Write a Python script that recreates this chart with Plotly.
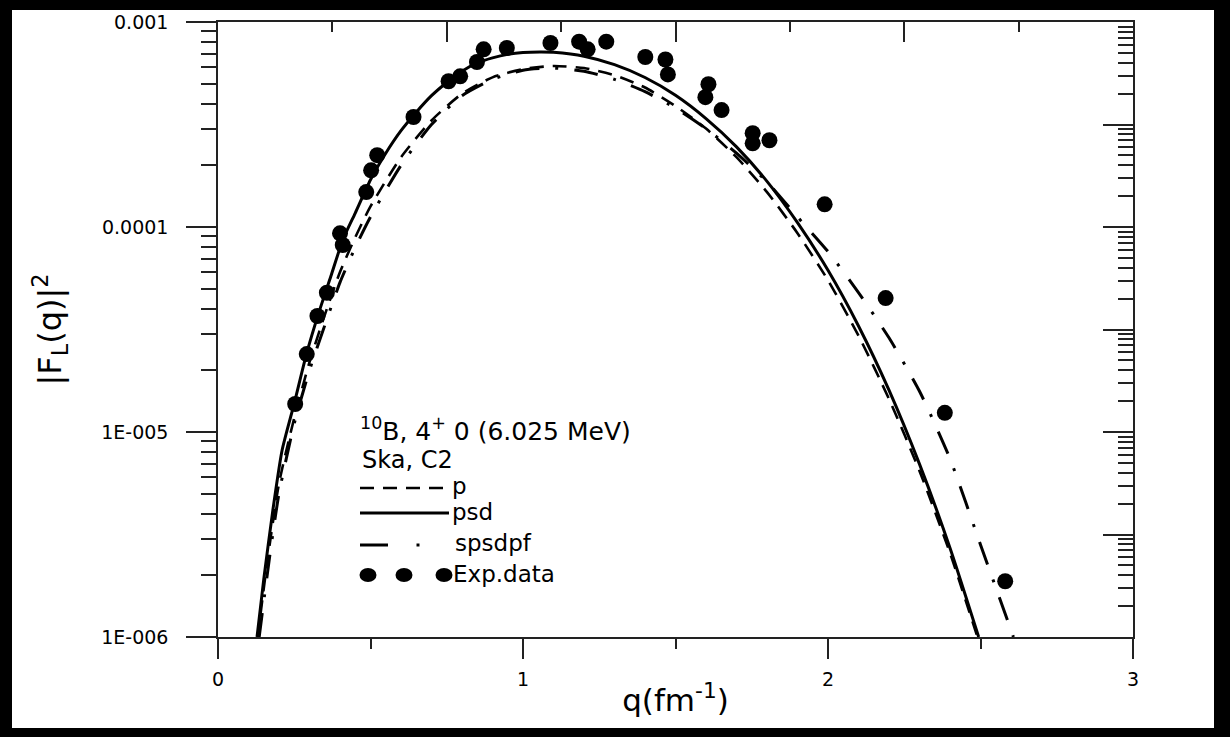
import plotly.graph_objects as go

# ---------------- data ----------------
q_exp = [0.253, 0.291, 0.326, 0.357, 0.400, 0.409, 0.486, 0.502, 0.522, 0.641,
         0.756, 0.794, 0.849, 0.871, 0.947, 1.090, 1.184, 1.212, 1.273, 1.401,
         1.467, 1.475, 1.598, 1.608, 1.651, 1.753, 1.753, 1.808, 1.989, 2.189,
         2.383, 2.581]
F_exp = [1.37e-5, 2.40e-5, 3.68e-5, 4.78e-5, 9.31e-5, 8.17e-5, 1.48e-4, 1.89e-4, 2.24e-4, 3.44e-4,
         5.14e-4, 5.43e-4, 6.38e-4, 7.36e-4, 7.47e-4, 7.90e-4, 8.02e-4, 7.36e-4, 8.02e-4, 6.75e-4,
         6.56e-4, 5.55e-4, 4.30e-4, 4.97e-4, 3.72e-4, 2.87e-4, 2.56e-4, 2.65e-4, 1.29e-4, 4.50e-5,
         1.24e-5, 1.87e-6]

q_psd = [0.128, 0.15, 0.18, 0.21, 0.25, 0.29, 0.33, 0.37, 0.41, 0.45, 0.50, 0.55, 0.60, 0.65,
         0.70, 0.75, 0.80, 0.85, 0.90, 0.95, 1.00, 1.06, 1.10, 1.20, 1.30, 1.40, 1.50, 1.60,
         1.70, 1.80, 1.90, 2.00, 2.10, 2.20, 2.30, 2.40, 2.494]
F_psd = [1.00e-6, 1.91e-6, 4.17e-6, 8.13e-6, 1.38e-5, 2.40e-5, 3.80e-5, 5.75e-5, 8.71e-5, 1.17e-4,
         1.70e-4, 2.29e-4, 2.95e-4, 3.63e-4, 4.37e-4, 5.07e-4, 5.75e-4, 6.31e-4, 6.68e-4, 6.95e-4,
         7.10e-4, 7.14e-4, 7.11e-4, 6.81e-4, 6.19e-4, 5.36e-4, 4.39e-4, 3.38e-4, 2.46e-4, 1.67e-4,
         1.05e-4, 6.15e-5, 3.29e-5, 1.60e-5, 6.97e-6, 2.72e-6, 1.00e-6]

q_p = [0.13, 0.16, 0.20, 0.25, 0.30, 0.35, 0.40, 0.45, 0.50, 0.60, 0.70, 0.80, 0.90, 1.00,
       1.10, 1.20, 1.30, 1.40, 1.50, 1.60, 1.70, 1.80, 1.90, 2.00, 2.10, 2.20, 2.30, 2.40, 2.49]
F_p = [1.00e-6, 2.24e-6, 5.62e-6, 1.17e-5, 2.19e-5, 3.72e-5, 6.03e-5, 8.91e-5, 1.26e-4, 2.19e-4,
       3.31e-4, 4.47e-4, 5.37e-4, 5.89e-4, 6.10e-4, 5.96e-4, 5.50e-4, 4.79e-4, 3.89e-4, 3.02e-4,
       2.19e-4, 1.48e-4, 9.33e-5, 5.50e-5, 2.95e-5, 1.45e-5, 6.46e-6, 2.57e-6, 1.00e-6]

q_sp = [0.135, 0.17, 0.20, 0.25, 0.30, 0.35, 0.40, 0.45, 0.50, 0.60, 0.70, 0.80, 0.90, 1.00,
        1.10, 1.20, 1.30, 1.40, 1.50, 1.60, 1.70, 1.80, 1.90, 2.00, 2.10, 2.20, 2.30, 2.40,
        2.50, 2.608]
F_sp = [1.00e-6, 2.51e-6, 5.01e-6, 1.10e-5, 2.00e-5, 3.31e-5, 5.37e-5, 7.94e-5, 1.12e-4, 2.00e-4,
        3.16e-4, 4.37e-4, 5.25e-4, 5.82e-4, 5.96e-4, 5.75e-4, 5.25e-4, 4.57e-4, 3.80e-4, 3.02e-4,
        2.29e-4, 1.66e-4, 1.12e-4, 7.59e-5, 4.79e-5, 2.88e-5, 1.58e-5, 7.41e-6, 2.82e-6, 1.00e-6]

x_tickvals = [0, 1, 2, 3]
x_ticktext = ["0", "1", "2", "3"]
y_tickvals = [1e-6, 1e-5, 1e-4, 1e-3]
y_ticktext = ["1E-006", "1E-005", "0.0001", "0.001"]

legend_title = "<sup>10</sup>B, 4<sup>+</sup> 0 (6.025 MeV)"
legend_sub = "Ska, C2"
legend_names = ["p", "psd", "spsdpf", "Exp.data"]

# ---------------- layout geometry ----------------
W, H = 1230, 737
L, R, T, B = 218, 97, 22, 100
PW, PH = W - L - R, H - T - B


def px(x):
    return (x - L) / PW


def py(y):
    return (H - B - y) / PH


FONT = "DejaVu Sans, Arial, sans-serif"
DASH_P = "14px,9px"
DASH_SP = "24px,16px,3px,16px"

fig = go.Figure()
fig.add_trace(go.Scatter(x=q_p, y=F_p, mode="lines", name=legend_names[0],
                         line=dict(color="black", width=2.6, dash=DASH_P, shape="spline",
                                   smoothing=0.6), showlegend=False))
fig.add_trace(go.Scatter(x=q_psd, y=F_psd, mode="lines", name=legend_names[1],
                         line=dict(color="black", width=3, shape="spline", smoothing=0.6),
                         showlegend=False))
fig.add_trace(go.Scatter(x=q_sp, y=F_sp, mode="lines", name=legend_names[2],
                         line=dict(color="black", width=3, dash=DASH_SP, shape="spline",
                                   smoothing=0.6), showlegend=False))
fig.add_trace(go.Scatter(x=q_exp, y=F_exp, mode="markers", name=legend_names[3],
                         marker=dict(color="black", size=16, symbol="circle"), showlegend=False))
# carrier trace for the secondary (top/right) frame axes
fig.add_trace(go.Scatter(x=[None], y=[None], xaxis="x2", yaxis="y2", showlegend=False,
                         hoverinfo="skip"))

minor_left = [k * 10.0 ** e for e in (-6, -5, -4) for k in range(2, 10)]
minor_right = [k * 10.0 ** e for e in range(-6, 0) for k in range(2, 10)]
axcol = "#222222"

fig.update_layout(
    width=W, height=H, template="none",
    margin=dict(l=L, r=R, t=T, b=B, pad=0),
    paper_bgcolor="white", plot_bgcolor="white",
    font=dict(family=FONT, color="black"),
    xaxis=dict(range=[0, 3], showgrid=False, zeroline=False, showline=True, linecolor=axcol,
               linewidth=1.5, ticks="outside", ticklen=20, tickwidth=1.5, tickcolor=axcol,
               tickmode="array", tickvals=x_tickvals, ticktext=x_ticktext,
               tickfont=dict(size=19, family=FONT), ticklabelstandoff=4,
               minor=dict(tickmode="array", tickvals=[0.5, 1.5, 2.5], ticks="outside",
                          ticklen=10, tickwidth=1.5, tickcolor=axcol, showgrid=False),
               title=dict(text="q(fm<sup>-1</sup>)", font=dict(size=31, family=FONT), standoff=1),
               automargin=False),
    yaxis=dict(type="log", range=[-6, -3], showgrid=False, zeroline=False, showline=True,
               linecolor=axcol, linewidth=1.5, ticks="outside", ticklen=30, tickwidth=1.5,
               tickcolor=axcol, tickmode="array", tickvals=y_tickvals, ticktext=y_ticktext,
               tickfont=dict(size=19, family=FONT), ticklabelstandoff=14,
               minor=dict(tickmode="array", tickvals=minor_left, ticks="outside", ticklen=15,
                          tickwidth=1.5, tickcolor=axcol, showgrid=False),
               title=dict(text="|F<sub>L</sub>(q)|<sup>2</sup>", font=dict(size=32, family=FONT),
                          standoff=30),
               automargin=False),
    xaxis2=dict(overlaying="x", side="top", range=[0, 4], showgrid=False, zeroline=False,
                showline=True, linecolor=axcol, linewidth=1.5, ticks="inside", ticklen=20,
                tickwidth=1.5, tickcolor=axcol, tickmode="linear", tick0=0, dtick=1,
                showticklabels=False,
                minor=dict(tickmode="linear", tick0=0, dtick=0.5, ticks="inside", ticklen=10,
                           tickwidth=1.5, tickcolor=axcol, showgrid=False),
                automargin=False),
    yaxis2=dict(overlaying="y", side="right", type="log", range=[-6, 0], showgrid=False,
                zeroline=False, showline=True, linecolor=axcol, linewidth=1.5, ticks="inside",
                ticklen=30, tickwidth=1.5, tickcolor=axcol, tickmode="array",
                tickvals=[10.0 ** e for e in range(-6, 1)], showticklabels=False,
                minor=dict(tickmode="array", tickvals=minor_right, ticks="inside", ticklen=15,
                           tickwidth=1.5, tickcolor=axcol, showgrid=False),
                automargin=False),
)

shapes = []
# thick black frame around the whole picture
for (x0, x1, y0, y1) in [(0, 12, 0, H), (W - 16, W, 0, H), (0, W, 0, 10), (0, W, H - 9, H)]:
    shapes.append(dict(type="rect", xref="paper", yref="paper", x0=px(x0), x1=px(x1),
                       y0=py(y1), y1=py(y0), fillcolor="black", line=dict(width=0),
                       layer="above"))

# legend samples
lx0, lx1 = 360, 449
shapes.append(dict(type="line", xref="paper", yref="paper", x0=px(lx0), x1=px(lx1),
                   y0=py(488), y1=py(488), line=dict(color="black", width=2.6, dash=DASH_P)))
shapes.append(dict(type="line", xref="paper", yref="paper", x0=px(lx0), x1=px(lx1),
                   y0=py(513), y1=py(513), line=dict(color="black", width=3)))
shapes.append(dict(type="line", xref="paper", yref="paper", x0=px(lx0), x1=px(388),
                   y0=py(545), y1=py(545), line=dict(color="black", width=3)))
shapes.append(dict(type="line", xref="paper", yref="paper", x0=px(416.5), x1=px(419.5),
                   y0=py(545), y1=py(545), line=dict(color="black", width=3)))
for cx in (368, 404, 444):
    shapes.append(dict(type="circle", xref="paper", yref="paper", x0=px(cx - 8.5),
                       x1=px(cx + 8.5), y0=py(575 + 7), y1=py(575 - 7),
                       fillcolor="black", line=dict(width=0)))
fig.update_layout(shapes=shapes)

ann = [
    dict(text=legend_title, x=px(358), y=py(429), xanchor="left", yanchor="middle", size=25),
    dict(text=legend_sub, x=px(360), y=py(460), xanchor="left", yanchor="middle", size=24),
    dict(text=legend_names[0], x=px(450), y=py(486), xanchor="left", yanchor="middle", size=23),
    dict(text=legend_names[1], x=px(450), y=py(512), xanchor="left", yanchor="middle", size=23),
    dict(text=legend_names[2], x=px(453), y=py(543), xanchor="left", yanchor="middle", size=23),
    dict(text=legend_names[3], x=px(451), y=py(574), xanchor="left", yanchor="middle", size=23),
]
for a in ann:
    s = a.pop("size")
    a.update(xref="paper", yref="paper", showarrow=False,
             font=dict(size=s, family=FONT, color="black"))
fig.update_layout(annotations=ann)

fig.write_html("out.html")
